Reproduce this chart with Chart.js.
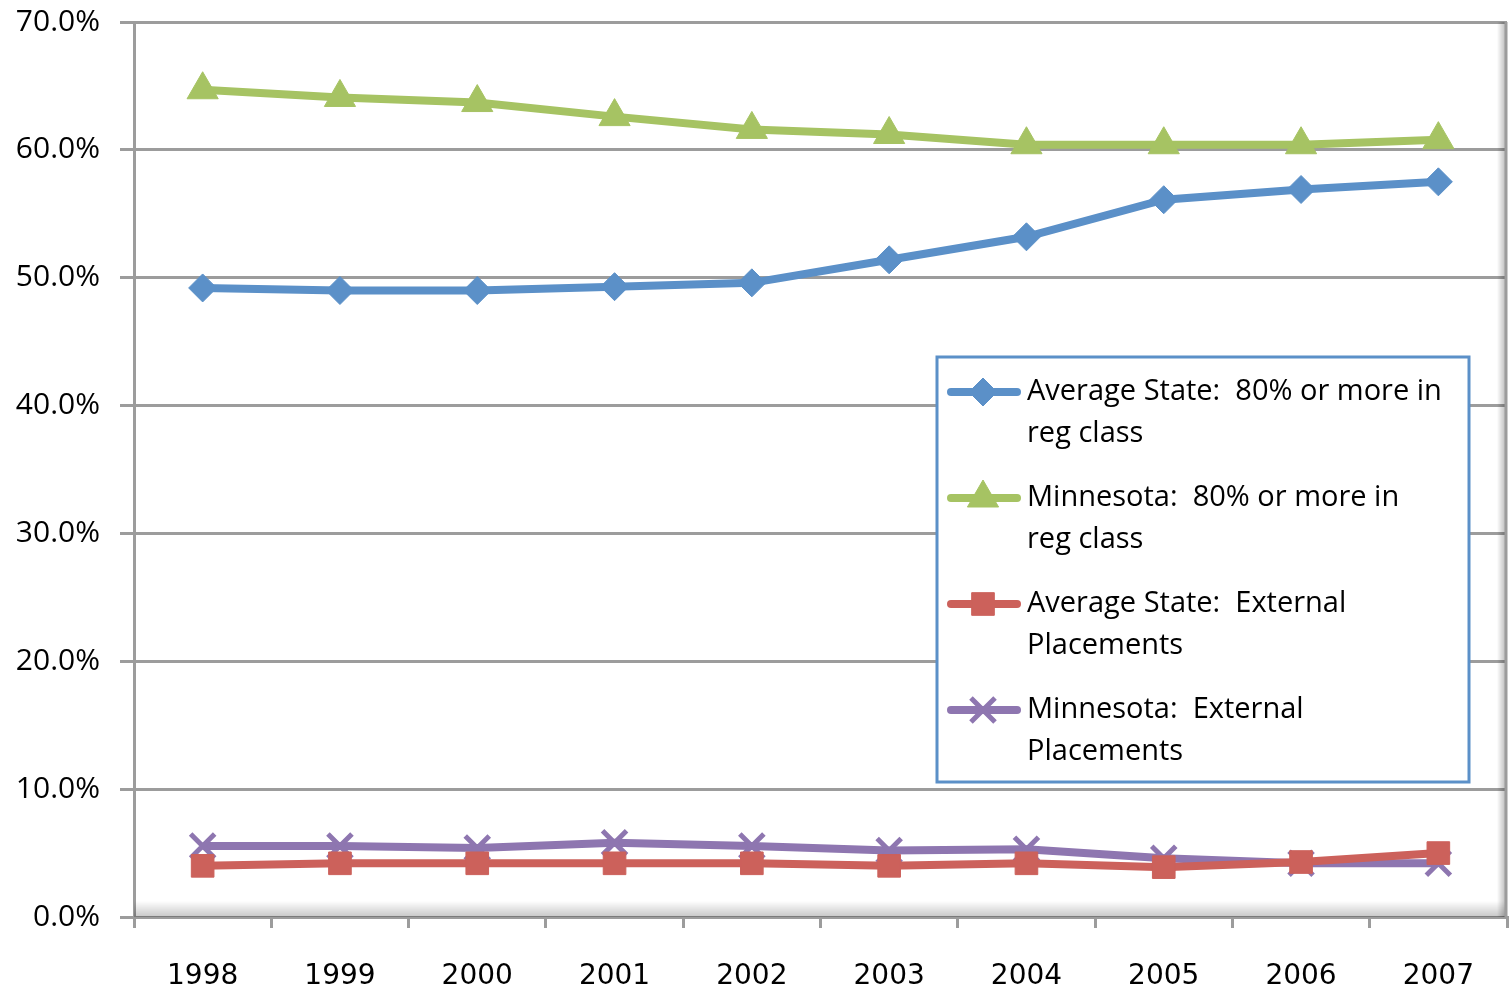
<!DOCTYPE html>
<html>
<head>
<meta charset="utf-8">
<script src="https://cdn.jsdelivr.net/npm/chart.js@4.4.1/dist/chart.umd.min.js"></script>
<style>
  body { margin: 0; background: #fff; }
  #wrap { width: 1510px; height: 990px; }
</style>
</head>
<body>
<div id="wrap"><canvas id="placementChart" width="1510" height="990"></canvas></div>
<script>
var years = ["1998", "1999", "2000", "2001", "2002", "2003", "2004", "2005", "2006", "2007"];
var avgStateRegClass = [49.2, 49.0, 49.0, 49.3, 49.6, 51.4, 53.2, 56.1, 56.9, 57.5];
var mnRegClass = [64.7, 64.1, 63.7, 62.6, 61.6, 61.2, 60.4, 60.4, 60.4, 60.8];
var avgStateExternal = [4.0, 4.2, 4.2, 4.2, 4.2, 4.0, 4.2, 3.9, 4.3, 5.0];
var mnExternal = [5.55, 5.55, 5.4, 5.8, 5.55, 5.2, 5.3, 4.6, 4.2, 4.2];
var seriesNames = [
    ["Average State:  80% or more in", "reg class"],
    ["Minnesota:  80% or more in", "reg class"],
    ["Average State:  External", "Placements"],
    ["Minnesota:  External", "Placements"]
];

var gridGray = "#9c9c9c";

// soft shadow inside the plot frame, like the office chart
var frameShadow = {
    id: "frameShadow",
    beforeDatasetsDraw: function(chart) {
        var ctx = chart.ctx, a = chart.chartArea;
        ctx.save();
        var g = ctx.createLinearGradient(0, a.bottom - 16, 0, a.bottom);
        g.addColorStop(0, "rgba(0,0,0,0)");
        g.addColorStop(1, "rgba(0,0,0,0.22)");
        ctx.fillStyle = g;
        ctx.fillRect(a.left, a.bottom - 16, a.right - a.left, 16);
        var h = ctx.createLinearGradient(a.right - 10, 0, a.right, 0);
        h.addColorStop(0, "rgba(0,0,0,0)");
        h.addColorStop(1, "rgba(0,0,0,0.3)");
        ctx.fillStyle = h;
        ctx.fillRect(a.right - 10, a.top, 10, a.bottom - a.top);
        ctx.strokeStyle = gridGray;
        ctx.lineWidth = 3;
        ctx.beginPath();
        ctx.moveTo(a.right - 1, a.top);
        ctx.lineTo(a.right - 1, a.bottom);
        ctx.stroke();
        ctx.restore();
    }
};

// boxed legend with wrapped labels
var boxLegend = {
    id: "boxLegend",
    afterDraw: function(chart, args, opts) {
        var ctx = chart.ctx;
        ctx.save();
        ctx.fillStyle = "#fff";
        ctx.fillRect(opts.x, opts.y, opts.w, opts.h);
        ctx.strokeStyle = opts.borderColor;
        ctx.lineWidth = 3;
        ctx.strokeRect(opts.x, opts.y, opts.w, opts.h);
        ctx.font = opts.font;
        ctx.textBaseline = "middle";
        ctx.textAlign = "left";
        chart.data.datasets.forEach(function(ds, i) {
            var cy = opts.y + opts.firstRow + i * opts.rowGap;
            ctx.strokeStyle = ds.borderColor;
            ctx.lineWidth = 8;
            ctx.lineCap = "round";
            ctx.beginPath();
            ctx.moveTo(opts.x + 14, cy);
            ctx.lineTo(opts.x + 80, cy);
            ctx.stroke();
            ctx.lineCap = "butt";
            ctx.fillStyle = ds.pointBackgroundColor;
            ctx.strokeStyle = ds.pointBorderColor;
            ctx.lineWidth = ds.pointBorderWidth;
            Chart.helpers.drawPoint(ctx, {pointStyle: ds.pointStyle, radius: ds.pointRadius, rotation: 0, borderWidth: ds.pointBorderWidth}, opts.x + 46, cy);
            ctx.fillStyle = "#000";
            seriesNames[i].forEach(function(line, j) {
                ctx.fillText(line, opts.x + 90, cy + j * opts.lineGap);
            });
        });
        ctx.restore();
    }
};

var chartdata = {
    labels: years,
    datasets: [
        {
            label: seriesNames[0].join(" "),
            data: avgStateRegClass,
            borderColor: "#5B90C8",
            backgroundColor: "#5B90C8",
            pointBackgroundColor: "#5B90C8",
            pointBorderColor: "#5B90C8",
            pointStyle: "rectRot",
            pointRadius: 14,
            pointBorderWidth: 1
        },
        {
            label: seriesNames[1].join(" "),
            data: mnRegClass,
            borderColor: "#A6C363",
            backgroundColor: "#A6C363",
            pointBackgroundColor: "#A6C363",
            pointBorderColor: "#A6C363",
            pointStyle: "triangle",
            pointRadius: 18,
            pointBorderWidth: 1
        },
        {
            label: seriesNames[2].join(" "),
            data: avgStateExternal,
            borderColor: "#CC615B",
            backgroundColor: "#CC615B",
            pointBackgroundColor: "#CC615B",
            pointBorderColor: "#CC615B",
            pointStyle: "rect",
            pointRadius: 16,
            pointBorderWidth: 1
        },
        {
            label: seriesNames[3].join(" "),
            data: mnExternal,
            borderColor: "#8E76B0",
            backgroundColor: "#8E76B0",
            pointBackgroundColor: "#8E76B0",
            pointBorderColor: "#8E76B0",
            pointStyle: "crossRot",
            pointRadius: 17,
            pointBorderWidth: 5
        }
    ]
};

var ctx = document.getElementById("placementChart");
var lineGraph = new Chart(ctx, {
    type: "line",
    data: chartdata,
    plugins: [frameShadow, boxLegend],
    options: {
        responsive: false,
        animation: false,
        layout: { autoPadding: false, padding: { top: 22, right: 3, left: 0, bottom: 0 } },
        elements: { line: { borderWidth: 8, tension: 0 } },
        plugins: {
            legend: { display: false },
            tooltip: { enabled: false },
            boxLegend: {
                x: 937, y: 357, w: 532, h: 425,
                firstRow: 35, rowGap: 106, lineGap: 42,
                borderColor: "#5B90C8",
                font: "29px 'Open Sans'"
            }
        },
        scales: {
            x: {
                offset: true,
                afterFit: function(s) { s.height = 73; s.paddingLeft = 0; s.paddingRight = 0; },
                border: { color: gridGray, width: 3 },
                grid: { offset: true, drawOnChartArea: false, color: gridGray, lineWidth: 3, tickLength: 11 },
                ticks: { color: "#000", padding: 32, font: { family: "'DejaVu Sans'", size: 28 } }
            },
            y: {
                min: 0,
                max: 70,
                afterFit: function(s) { s.width = 134; s.paddingTop = 0; s.paddingBottom = 0; },
                border: { color: gridGray, width: 3 },
                grid: { color: gridGray, lineWidth: 3, tickLength: 14 },
                ticks: {
                    stepSize: 10,
                    color: "#000",
                    padding: 20,
                    font: { family: "'Open Sans'", size: 30 },
                    callback: function(v) { return v.toFixed(1) + "%"; }
                }
            }
        }
    }
});
</script>
</body>
</html>
